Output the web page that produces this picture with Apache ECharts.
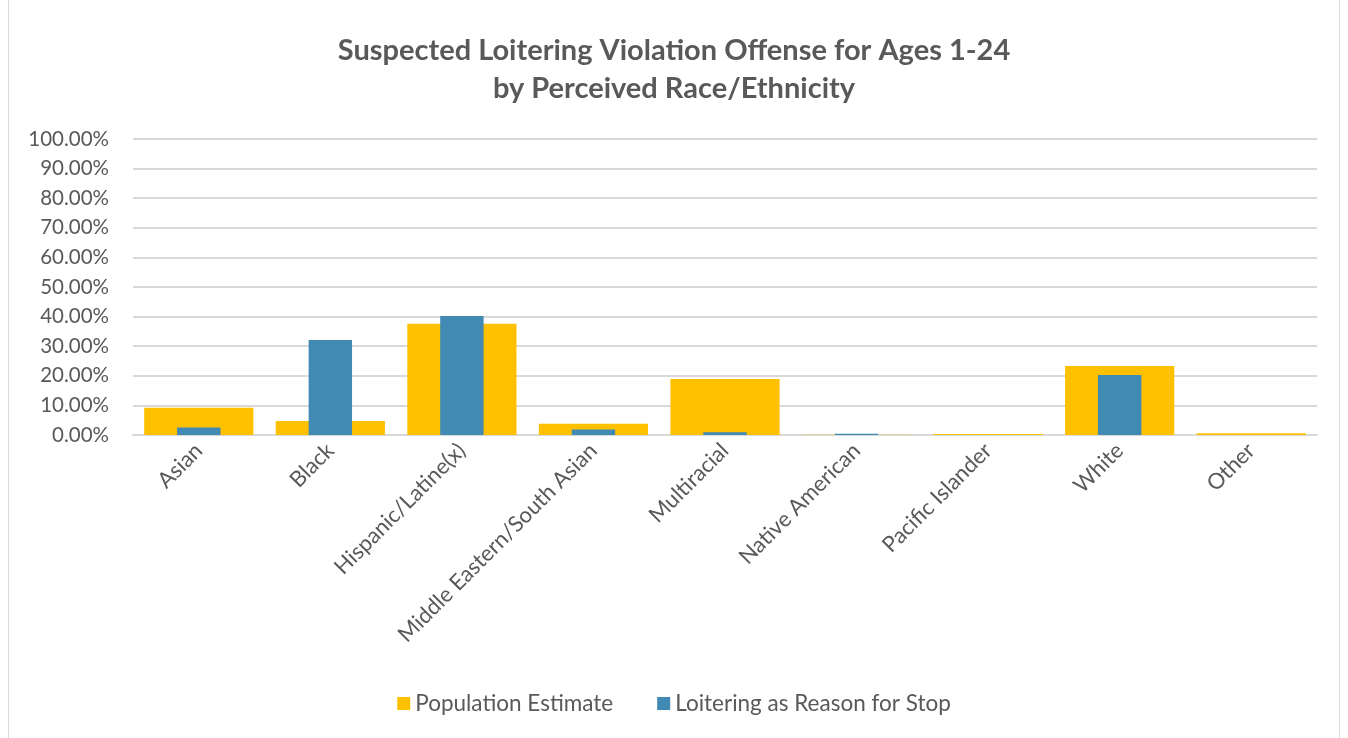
<!DOCTYPE html>
<html>
<head>
<meta charset="utf-8">
<script src="https://cdn.jsdelivr.net/npm/echarts@6/dist/echarts.min.js"></script>
<style>
  html, body { margin: 0; padding: 0; background: #fff; }
  #chart { position: absolute; left: 8px; top: 0; width: 1332px; height: 738px; border-left: 1px solid #d9d9d9; border-right: 1px solid #d9d9d9; box-sizing: border-box; }
</style>
</head>
<body>
<div id="chart"></div>
<script>
var categories = ['Asian', 'Black', 'Hispanic/Latine(x)', 'Middle Eastern/South Asian', 'Multiracial',
    'Native American', 'Pacific Islander', 'White', 'Other'];
var populationEstimate = [9.2, 4.7, 37.6, 3.8, 18.9, 0.1, 0.3, 23.3, 0.6];
var loiteringStop = [2.5, 32.1, 40.2, 1.9, 0.9, 0.4, 0.0, 20.3, 0.0];
var yTicks = [0, 10, 20, 30, 40, 50, 60, 70, 80, 90, 100];

var font = 'Lato, "Open Sans", sans-serif';
var chart = echarts.init(document.getElementById('chart'));

var option = {
    animation: false,
    title: {
        text: 'Suspected Loitering Violation Offense for Ages 1-24\nby Perceived Race/Ethnicity',
        left: 'center',
        top: 27,
        textStyle: { fontFamily: font, fontSize: 29, fontWeight: 'bold', color: '#595959', lineHeight: 38 }
    },
    legend: {
        bottom: 18,
        left: 'center',
        itemWidth: 13,
        itemHeight: 13,
        itemGap: 44,
        icon: 'rect',
        textStyle: { fontFamily: font, fontSize: 22.5, color: '#595959' },
        data: ['Population Estimate', 'Loitering as Reason for Stop']
    },
    grid: { left: 124, right: 22, top: 139, bottom: 303 },
    xAxis: [{
        type: 'category',
        data: categories,
        axisLine: { lineStyle: { color: '#d9d9d9', width: 2 } },
        axisTick: { show: false },
        axisLabel: { rotate: 45, interval: 0, fontFamily: font, fontSize: 22, color: '#595959', margin: 12 }
    }, {
        type: 'category',
        data: categories,
        show: false
    }],
    yAxis: {
        type: 'value',
        min: yTicks[0],
        max: yTicks[yTicks.length - 1],
        interval: 10,
        axisLine: { show: false },
        axisTick: { show: false },
        splitLine: { lineStyle: { color: '#d9d9d9', width: 2 } },
        axisLabel: {
            fontFamily: font, fontSize: 20.5, color: '#595959', margin: 24,
            formatter: function (v) { return v.toFixed(2) + '%'; }
        }
    },
    series: [{
        name: 'Population Estimate',
        type: 'bar',
        xAxisIndex: 0,
        data: populationEstimate,
        barWidth: '83%',
        itemStyle: { color: '#ffc000' }
    }, {
        name: 'Loitering as Reason for Stop',
        type: 'bar',
        xAxisIndex: 1,
        data: loiteringStop,
        barWidth: '33%',
        itemStyle: { color: '#418ab3' }
    }]
};
chart.setOption(option);
</script>
</body>
</html>
